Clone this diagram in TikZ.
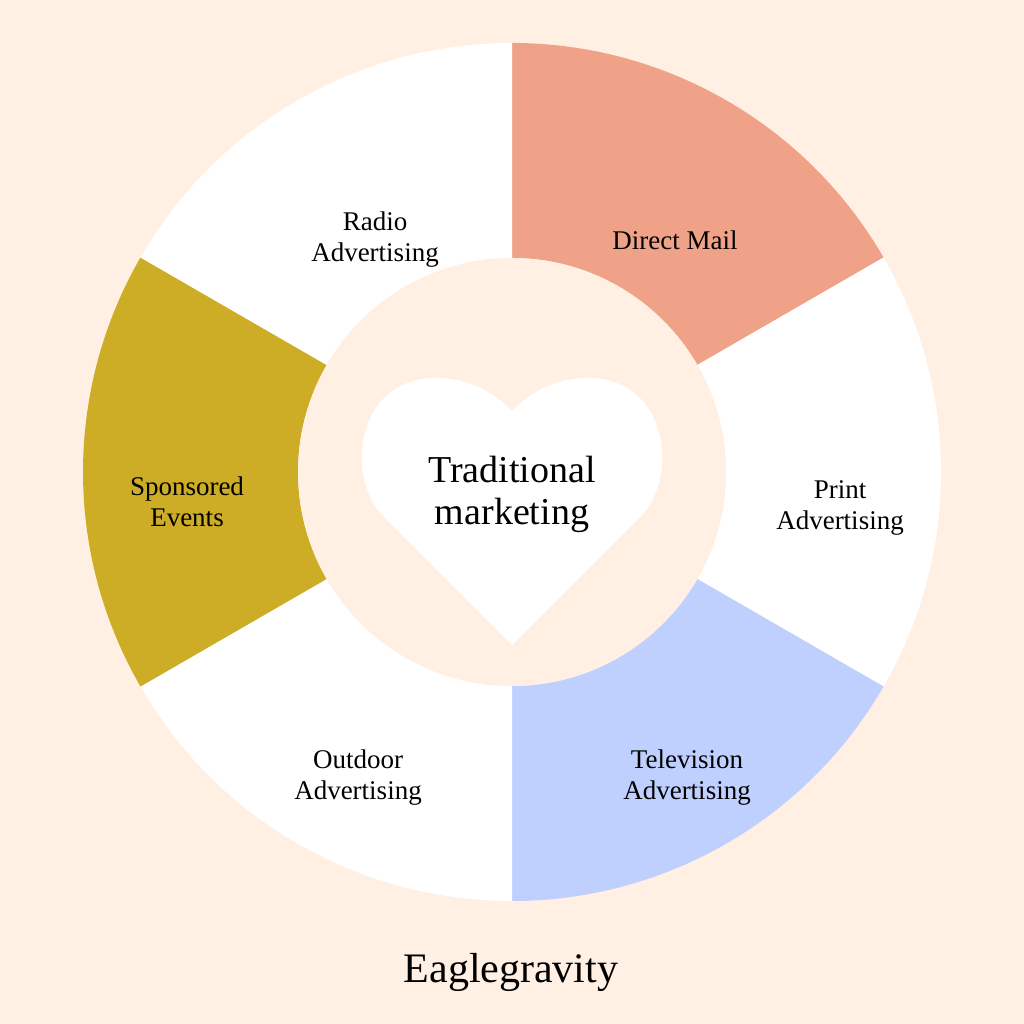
\documentclass[tikz,border=0pt]{standalone}
\usepackage{fontspec}
\setmainfont{Liberation Serif}
\definecolor{bgcream}{HTML}{FFF0E3}
\definecolor{mailsalmon}{HTML}{EFA287}
\definecolor{tvblue}{HTML}{BFD0FF}
\definecolor{eventgold}{HTML}{CCAD25}
\newcommand{\printSEG}[3]{\fill [#3] (512,552) ++(#1:429) arc (#1:#2:429) -- ++(#2+180:215) arc (#2:#1:214) -- cycle;}
\begin{document}
\begin{tikzpicture}[x=1pt,y=1pt]
  \fill [bgcream] (0,0) rectangle (1024,1024);
  \printSEG{30}{90}{mailsalmon}
  \printSEG{-30}{30}{white}
  \printSEG{-90}{-30}{tvblue}
  \printSEG{-150}{-90}{white}
  \printSEG{150}{210}{eventgold}
  \printSEG{90}{150}{white}
  \fill [bgcream] (512,552) circle (214);
  % heart
  \fill [white] (512,379) -- (383,508) .. controls (345,546) and (355,646) .. (436,646)
    .. controls (478,646) and (503,622) .. (512,613)
    .. controls (521,622) and (546,646) .. (588,646)
    .. controls (669,646) and (679,546) .. (641,508) -- cycle;
  \tikzset{seglabel/.style={font=\fontsize{27}{31}\selectfont, align=center, text=black}}
  \node [seglabel] (mail) at (675,784) {Direct Mail};
  \node [seglabel] (print) at (840,516) {Print\\Advertising};
  \node [seglabel] (tv) at (687,246) {Television\\Advertising};
  \node [seglabel] (outdoor) at (358,246) {Outdoor\\Advertising};
  \node [seglabel] (events) at (187,522) {Sponsored\\Events};
  \node [seglabel] (radio) at (375,784) {Radio\\Advertising};
  \node [font=\fontsize{38}{42}\selectfont, align=center] (center) at (512,530) {Traditional\\marketing};
  \node [font=\fontsize{42}{48}\selectfont] (brand) at (511,52) {Eaglegravity};
\end{tikzpicture}
\end{document}
